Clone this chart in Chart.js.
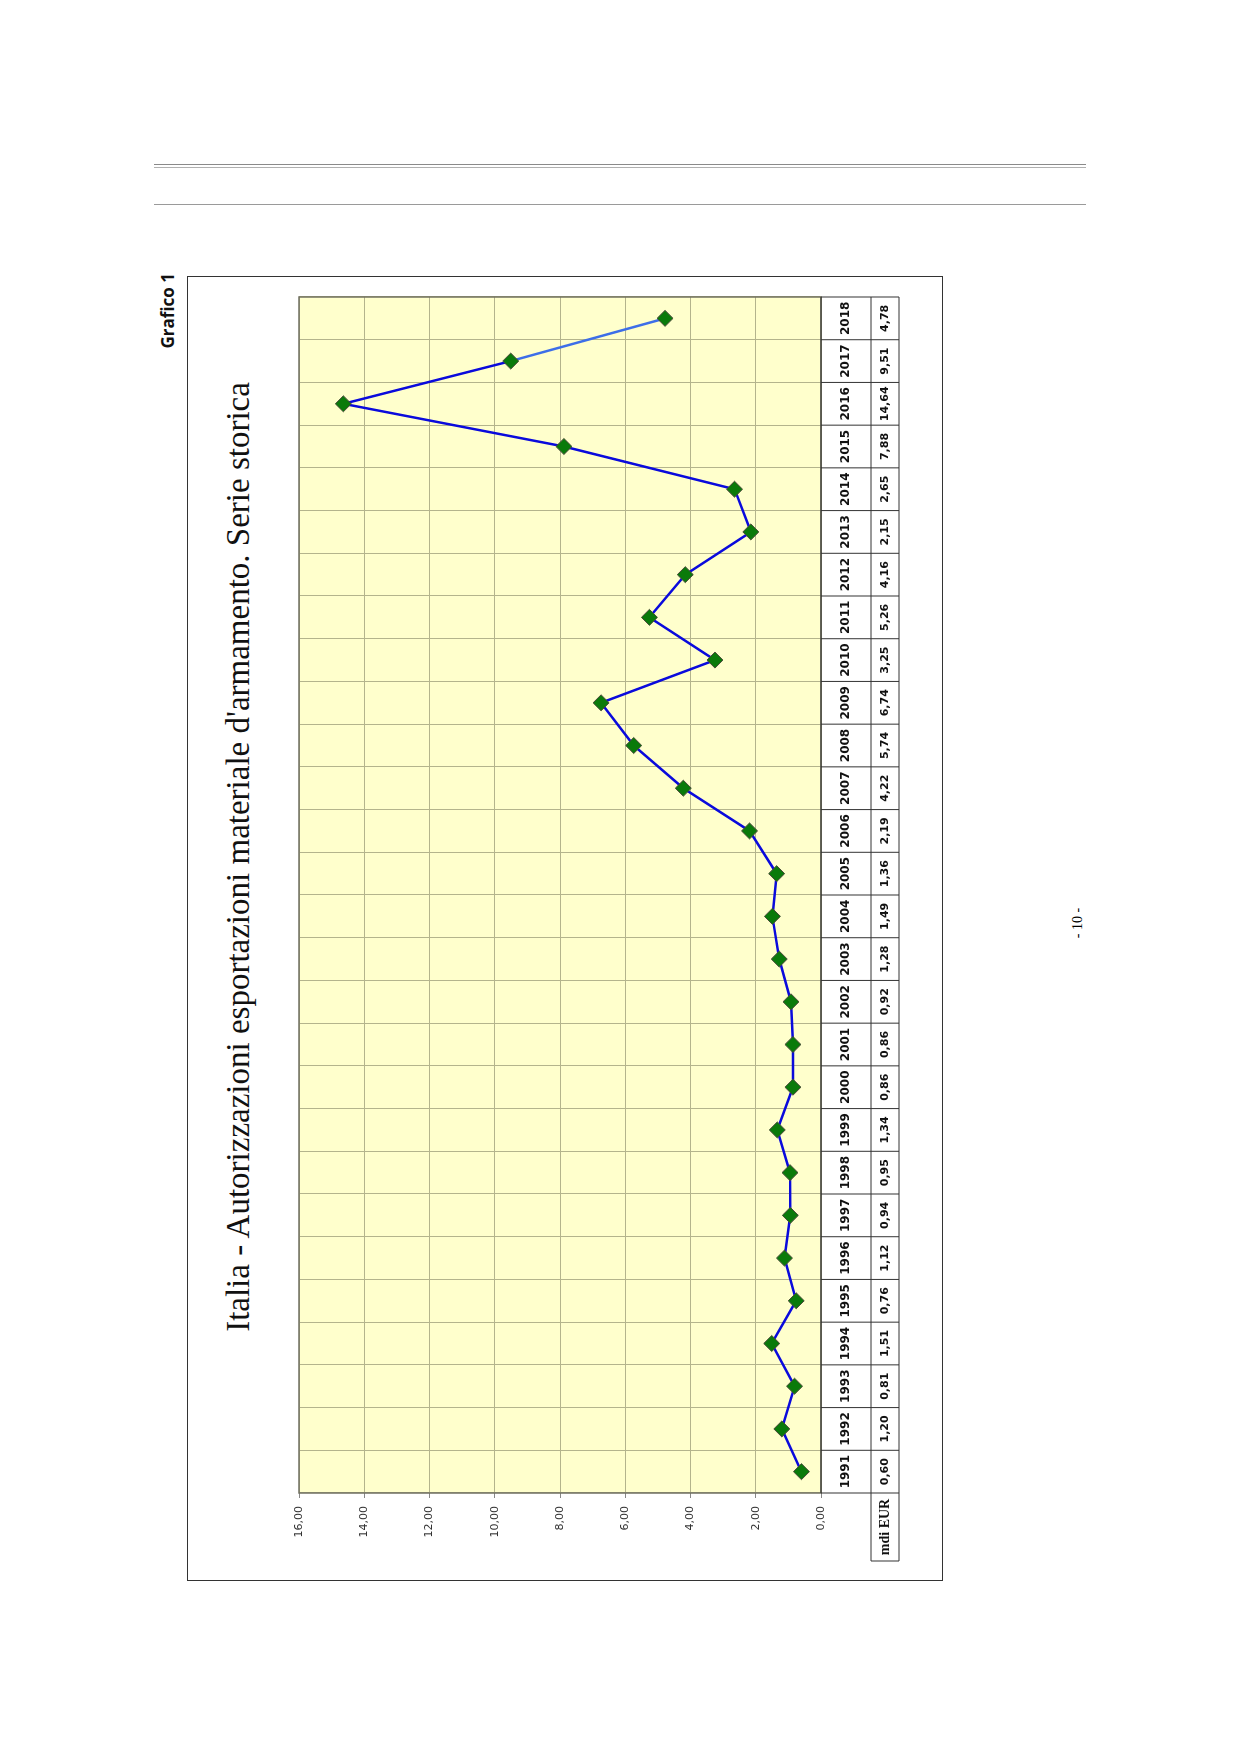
<!DOCTYPE html>
<html lang="it">
<head>
  <meta charset="UTF-8" />
  <title>Grafico 1 - Autorizzazioni esportazioni</title>
  <script src="https://cdn.jsdelivr.net/npm/chart.js"></script>
  <style>
    html, body {
      margin: 0;
      padding: 0;
      background: #fff;
    }
    .page {
      position: relative;
      width: 1239px;
      height: 1752px;
      overflow: hidden;
    }
    .rule {
      position: absolute;
      left: 154px;
      width: 932px;
      height: 0;
    }
    /* the whole chart is laid out upright, then turned on its side */
    .turned {
      position: absolute;
      left: 187px;
      top: 1581px;
      width: 1304px;
      height: 755px;
      transform-origin: 0 0;
      transform: rotate(-90deg);
    }
    .frame {
      position: absolute;
      left: 0; top: 0;
      width: 1303px; height: 754px;
      border: 1px solid #333;
    }
    .label {
      position: absolute;
      top: -31px;
      right: -4px;
      font-family: "Open Sans", sans-serif;
      font-weight: bold;
      font-size: 17px;
      color: #111;
    }
    .title {
      position: absolute;
      left: 0;
      width: 1448px;
      top: 33px;
      text-align: center;
      font-family: "Liberation Serif", serif;
      font-size: 33px;
      color: #111;
      white-space: nowrap;
    }
    canvas {
      position: absolute;
      left: 0;
      top: 0;
    }
    .pagenum {
      position: absolute;
      left: 1056px;
      top: 915px;
      width: 44px;
      text-align: center;
      font-family: "Liberation Serif", serif;
      font-size: 14px;
      transform: rotate(-90deg);
    }
  </style>
</head>
<body>
  <div class="page">
    <div class="rule" style="top:164px; border-top:1px solid #8a8a8a;"></div>
    <div class="rule" style="top:167px; border-top:1px solid #b0b0b0;"></div>
    <div class="rule" style="top:204px; border-top:1px solid #9a9a9a;"></div>

    <div class="turned">
      <div class="label">Grafico 1</div>
      <div class="frame"></div>
      <div class="title">Italia - Autorizzazioni esportazioni materiale d'armamento. Serie storica</div>
      <canvas id="exportChart" width="1304" height="755"></canvas>
    </div>

    <div class="pagenum">- 10 -</div>
  </div>

  <script>
    const years = ['1991', '1992', '1993', '1994', '1995', '1996', '1997', '1998', '1999', '2000',
                   '2001', '2002', '2003', '2004', '2005', '2006', '2007', '2008', '2009', '2010',
                   '2011', '2012', '2013', '2014', '2015', '2016', '2017', '2018'];
    const values = [0.60, 1.20, 0.81, 1.51, 0.76, 1.12, 0.94, 0.95, 1.34, 0.86,
                    0.86, 0.92, 1.28, 1.49, 1.36, 2.19, 4.22, 5.74, 6.74, 3.25,
                    5.26, 4.16, 2.15, 2.65, 7.88, 14.64, 9.51, 4.78];
    const unitLabel = 'mdi EUR';
    const yMin = 0;
    const yMax = 16;
    const yStep = 2;

    // Italian style: comma as decimal separator
    function fmt(v) {
      return Number(v).toFixed(2).replace('.', ',');
    }

    // yellow plot area and its border
    const plotBackground = {
      id: 'plotBackground',
      beforeDraw(chart) {
        const { ctx, chartArea: a } = chart;
        ctx.save();
        ctx.fillStyle = '#ffffcc';
        ctx.fillRect(a.left, a.top, a.right - a.left, a.bottom - a.top);
        ctx.restore();
      },
      afterDatasetsDraw(chart) {
        const { ctx, chartArea: a } = chart;
        ctx.save();
        ctx.strokeStyle = '#707060';
        ctx.lineWidth = 1.5;
        ctx.strokeRect(a.left, a.top, a.right - a.left, a.bottom - a.top);
        ctx.restore();
      }
    };

    // data table under the plot, aligned to the category scale
    const dataTable = {
      id: 'dataTable',
      afterDraw(chart) {
        const { ctx, chartArea: a } = chart;
        const x = chart.scales.x;
        const top = a.bottom;
        const mid = top + 50;
        const bot = mid + 28;
        const half = (x.getPixelForValue(1) - x.getPixelForValue(0)) / 2;
        const headLeft = a.left - 68;

        ctx.save();
        ctx.strokeStyle = '#333';
        ctx.lineWidth = 1;

        ctx.beginPath();
        ctx.moveTo(a.left, top); ctx.lineTo(a.right, top);
        ctx.moveTo(headLeft, mid); ctx.lineTo(a.right, mid);
        ctx.moveTo(headLeft, bot); ctx.lineTo(a.right, bot);
        ctx.moveTo(headLeft, mid); ctx.lineTo(headLeft, bot);
        ctx.moveTo(a.right, top); ctx.lineTo(a.right, bot);
        years.forEach((y, i) => {
          const px = x.getPixelForValue(i) - half;
          ctx.moveTo(px, top);
          ctx.lineTo(px, bot);
        });
        ctx.stroke();

        ctx.fillStyle = '#111';
        ctx.textAlign = 'center';
        ctx.textBaseline = 'middle';
        years.forEach((y, i) => {
          const px = x.getPixelForValue(i);
          ctx.font = 'bold 12px "DejaVu Sans"';
          ctx.fillText(y, px, (top + mid) / 2);
          ctx.font = 'bold 11px "DejaVu Sans"';
          ctx.fillText(fmt(values[i]), px, (mid + bot) / 2);
        });

        ctx.font = 'bold 14px "Liberation Serif"';
        ctx.fillText(unitLabel, (headLeft + a.left) / 2, (mid + bot) / 2);
        ctx.restore();
      }
    };

    const lastIndex = values.length - 1;

    new Chart(document.getElementById('exportChart'), {
      type: 'line',
      data: {
        labels: years,
        datasets: [{
          label: unitLabel,
          data: values,
          borderColor: '#0a0adc',
          borderWidth: 2.5,
          segment: {
            borderColor: ctx => ctx.p1DataIndex === lastIndex ? '#3d6ee8' : undefined
          },
          pointStyle: 'rectRot',
          pointRadius: 8,
          pointHoverRadius: 8,
          pointBackgroundColor: '#0a7a0a',
          pointBorderColor: '#4a4a3a',
          pointBorderWidth: 1,
          tension: 0
        }]
      },
      options: {
        responsive: false,
        animation: false,
        layout: {
          padding: { left: 0, top: 112, right: 20, bottom: 121 }
        },
        plugins: {
          legend: { display: false },
          tooltip: { enabled: false },
          title: { display: false }
        },
        scales: {
          x: {
            type: 'category',
            offset: true,
            afterFit(s) { s.height = 0; },
            ticks: { display: false },
            border: { display: false },
            grid: {
              offset: true,
              drawTicks: false,
              color: '#b4b48c',
              lineWidth: 1
            }
          },
          y: {
            min: yMin,
            max: yMax,
            afterFit(s) { s.width = 88; },
            border: { display: false },
            grid: {
              color: '#b4b48c',
              lineWidth: 1,
              tickLength: 5,
              tickColor: '#888'
            },
            ticks: {
              stepSize: yStep,
              padding: 8,
              color: '#333',
              font: { family: 'DejaVu Sans', size: 11 },
              callback: v => fmt(v)
            }
          }
        }
      },
      plugins: [plotBackground, dataTable]
    });
  </script>
</body>
</html>
